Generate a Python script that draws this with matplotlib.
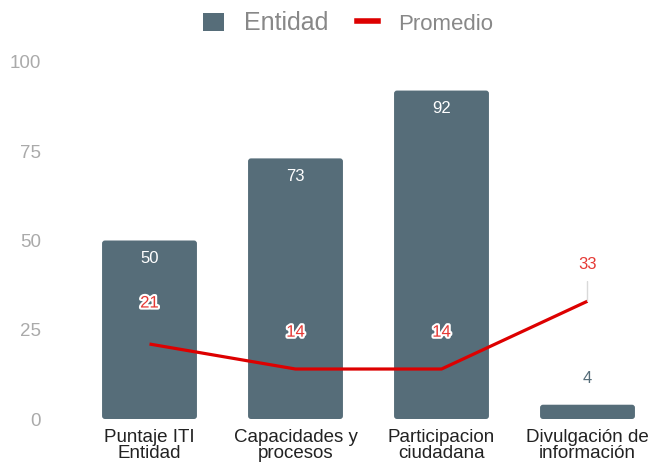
import matplotlib
matplotlib.use("Agg")
import matplotlib.pyplot as plt
import matplotlib.patheffects as pe
from matplotlib.lines import Line2D
from matplotlib.patches import Patch, FancyBboxPatch

plt.rcParams['font.family'] = ['Liberation Sans', 'DejaVu Sans']

categorias = ['Puntaje ITI\nEntidad', 'Capacidades y\nprocesos',
              'Participacion\nciudadana', 'Divulgación de\ninformación']
entidad = [50, 73, 92, 4]
promedio = [21, 14, 14, 33]

color_barra = '#566d79'
color_linea = '#dd0000'
color_etiqueta = '#e53935'

fig = plt.figure(figsize=(6.5, 4.71), dpi=100)
# eje en pixeles: izquierda 76.5, derecha 650, y=0 en 419, y=100 en 62
ax = fig.add_axes([76.5 / 650, (471 - 419) / 471, (650 - 76.5) / 650, (419 - 62) / 471])

x = range(len(categorias))
barras = ax.bar(x, entidad, width=0.65, color=color_barra, zorder=2)
# esquinas redondeadas
for b in barras:
    b.set_visible(False)
    caja = FancyBboxPatch((b.get_x(), b.get_y()), b.get_width(), b.get_height(),
                          boxstyle='round,pad=0,rounding_size=0.02',
                          mutation_aspect=41, facecolor=color_barra,
                          edgecolor='none', zorder=2)
    ax.add_patch(caja)

ax.plot(x, promedio, color=color_linea, lw=2.3, zorder=3, solid_capstyle='butt')

ax.set_xlim(-0.5, 3.5 - 10.5 / 146)
ax.set_ylim(0, 100)
ax.set_yticks([0, 25, 50, 75, 100])
ax.set_xticks(list(x))
ax.set_xticklabels(categorias, fontsize=13.5, color='#222222', linespacing=0.95)
ax.tick_params(axis='y', colors='#aaaaaa', labelsize=13.5, length=0, pad=25.5)
ax.tick_params(axis='x', length=0, pad=7)
for s in ax.spines.values():
    s.set_visible(False)

# etiquetas de las barras
for i, v in enumerate(entidad):
    if v > 10:
        ax.annotate(str(v), (i, v), xytext=(0, -13), textcoords='offset points',
                    ha='center', va='center', color='white', fontsize=12)
    else:
        ax.annotate(str(v), (i, v), xytext=(0, 19), textcoords='offset points',
                    ha='center', va='center', color=color_barra, fontsize=12)

# etiquetas de la linea
borde = [pe.withStroke(linewidth=3, foreground='white')]
desplaz = [29.5, 26.5, 26.5, 26.5]
for i, v in enumerate(promedio):
    if i == 3:
        ax.annotate(str(v), (i, v), xytext=(0, desplaz[i]), textcoords='offset points',
                    ha='center', va='center', color=color_etiqueta, fontsize=12,
                    arrowprops=dict(arrowstyle='-', color='#d9d9d9', lw=1,
                                    shrinkA=5, shrinkB=0))
    else:
        ax.annotate(str(v), (i, v), xytext=(0, desplaz[i]), textcoords='offset points',
                    ha='center', va='center', color=color_etiqueta, fontsize=12,
                    path_effects=borde)

handles = [Patch(facecolor=color_barra, edgecolor='none'),
           Line2D([0], [0], color=color_linea, lw=4)]
ley = fig.legend(handles, ['Entidad', 'Promedio'], loc='upper center',
                 bbox_to_anchor=(0.535, 1.02), ncol=2, frameon=False,
                 fontsize=16, labelcolor='#888888', handlelength=0.95,
                 handleheight=0.9, columnspacing=1.3, handletextpad=0.9)
ley.get_texts()[0].set_fontsize(18)

fig.savefig('out.png', dpi=100)
